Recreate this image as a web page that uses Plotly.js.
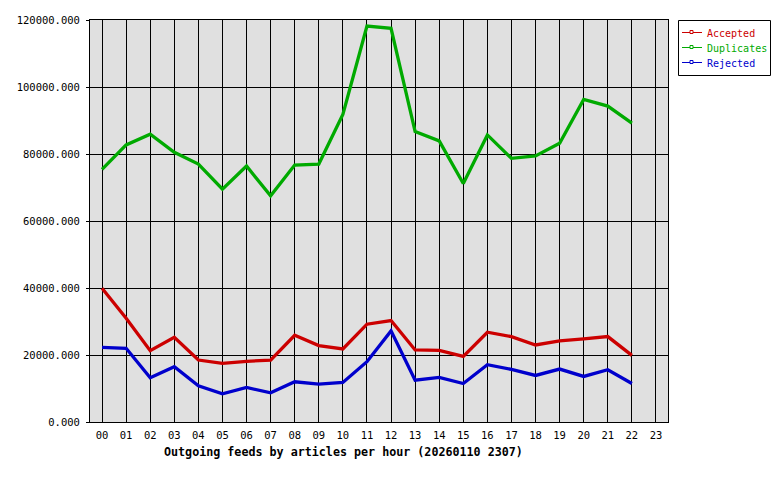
<!DOCTYPE html>
<html>
<head>
<meta charset="utf-8">
<script src="https://cdn.plot.ly/plotly-3.0.1.min.js"></script>
<style>html,body{margin:0;padding:0;background:#fff;}#chart{width:780px;height:480px;}</style>
</head>
<body>
<div id="chart"></div>
<script>
const hours = ['00','01','02','03','04','05','06','07','08','09','10','11','12','13','14','15','16','17','18','19','20','21','22','23'];
const accepted = [39900,30950,21300,25300,18500,17500,18100,18500,25900,22800,21800,29200,30300,21500,21400,19600,26800,25500,23000,24200,24800,25500,19900];
const duplicates = [75400,82700,85900,80500,77000,69500,76400,67500,76700,77000,91800,118200,117500,86700,83900,71200,85700,78700,79400,83200,96300,94300,89200];
const rejected = [22300,22000,13200,16500,10800,8400,10300,8700,12000,11300,11800,18000,27200,12500,13300,11500,17100,15700,13900,15800,13600,15600,11500];

const seriesNames = ['Accepted','Duplicates','Rejected'];
const seriesColors = ['#cc0000','#00aa00','#0000cc'];
const seriesData = [accepted, duplicates, rejected];
const titleText = 'Outgoing feeds by articles per hour (20260110 2307)';

const mono = '"DejaVu Sans Mono", "Liberation Mono", monospace';

// plot area in pixels (for placing legend/title which are not data marks)
const PL = 90, PR = 668, PT = 20, PB = 422;
const px = v => (v - PL) / (PR - PL);
const py = v => (PB - v) / (PB - PT);

const traces = seriesData.map((vals, i) => ({
  x: vals.map((_, k) => k),
  y: vals,
  type: 'scatter',
  mode: 'lines',
  name: seriesNames[i],
  line: {color: seriesColors[i], width: 3.3},
  hoverinfo: 'skip',
  showlegend: false
}));

const shapes = [{
  type: 'rect', xref: 'paper', yref: 'paper',
  x0: px(678.5), x1: px(770.5), y0: py(75.5), y1: py(20.5),
  line: {color: '#000', width: 1}, fillcolor: '#fff'
}];
const annotations = [{
  text: '<b>' + titleText + '</b>',
  xref: 'paper', yref: 'paper',
  x: px(343), y: py(452), xanchor: 'center', yanchor: 'middle',
  showarrow: false,
  font: {family: mono, size: 11.7, color: '#000'}
}];
seriesNames.forEach((nm, i) => {
  const yy = 32.5 + i * 15;
  shapes.push({type: 'line', xref: 'paper', yref: 'paper',
    x0: px(682), x1: px(702), y0: py(yy), y1: py(yy),
    line: {color: seriesColors[i], width: 1}});
  shapes.push({type: 'rect', xref: 'paper', yref: 'paper',
    x0: px(690), x1: px(693), y0: py(yy + 1), y1: py(yy - 2),
    line: {color: seriesColors[i], width: 1}, fillcolor: '#fff'});
  annotations.push({text: nm, xref: 'paper', yref: 'paper',
    x: px(705), y: py(yy + 1), xanchor: 'left', yanchor: 'middle', showarrow: false,
    font: {family: mono, size: 10, color: seriesColors[i]}});
});

const layout = {
  width: 780, height: 480,
  margin: {l: PL, r: 780 - PR, t: PT, b: 480 - PB, autoexpand: false},
  paper_bgcolor: '#ffffff',
  plot_bgcolor: '#e0e0e0',
  font: {family: mono, size: 10, color: '#000'},
  showlegend: false,
  xaxis: {
    range: [-0.5, 23.5],
    tickvals: hours.map((_, k) => k),
    ticktext: hours,
    showgrid: true, gridcolor: '#000', gridwidth: 1,
    zeroline: false,
    showline: true, linecolor: '#000', linewidth: 1, mirror: true,
    ticks: 'outside', ticklen: 3, tickcolor: 'rgba(0,0,0,0)',
    tickfont: {family: mono, size: 10.5}
  },
  yaxis: {
    range: [0, 120000],
    dtick: 20000, tick0: 0,
    tickformat: '.3f',
    showgrid: true, gridcolor: '#000', gridwidth: 1,
    zeroline: false,
    showline: true, linecolor: '#000', linewidth: 1, mirror: true,
    ticks: 'outside', ticklen: 3, tickcolor: '#000',
    ticklabelstandoff: 4,
    tickfont: {family: mono, size: 10.5}
  },
  shapes: shapes,
  annotations: annotations
};

Plotly.newPlot('chart', traces, layout, {displayModeBar: false, staticPlot: true});
</script>
</body>
</html>
